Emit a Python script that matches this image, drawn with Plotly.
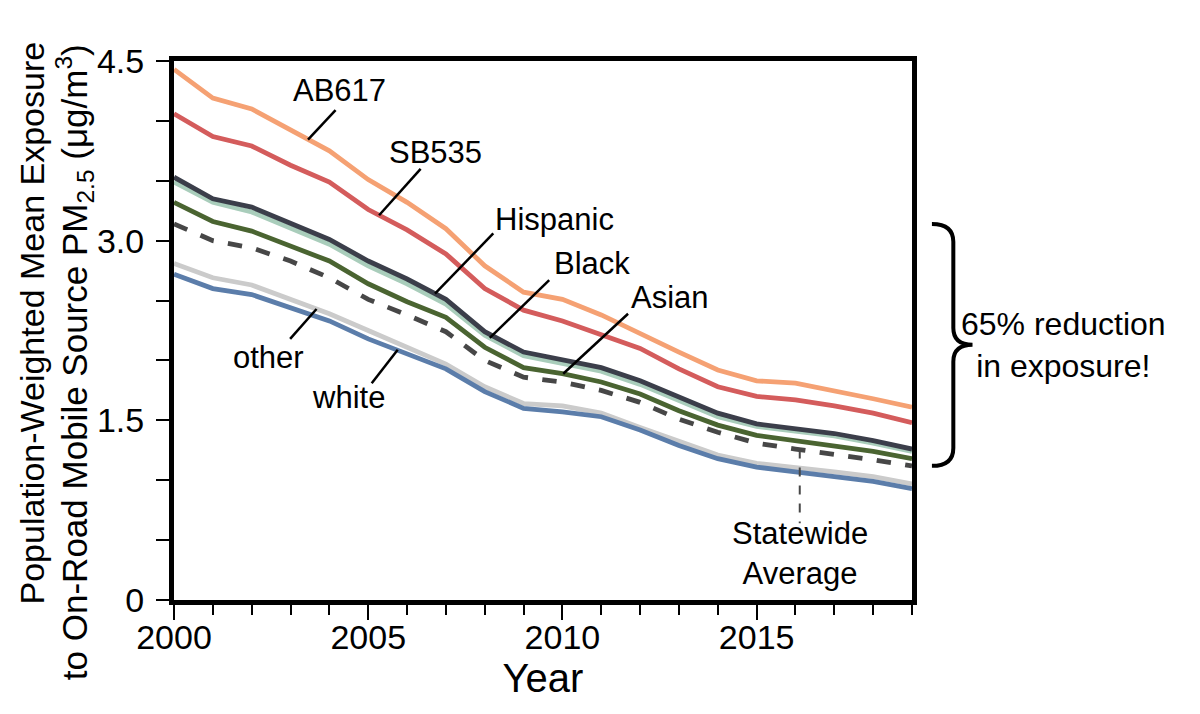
import numpy as np
import plotly.graph_objects as go

years = list(range(2000, 2020))

# population-weighted mean exposure, ug/m3
ab617 = [4.43, 4.19, 4.10, 3.92, 3.75, 3.51, 3.32, 3.10, 2.79, 2.57,
         2.51, 2.38, 2.22, 2.07, 1.92, 1.83, 1.81, 1.75, 1.68, 1.61]
sb535 = [4.06, 3.87, 3.79, 3.63, 3.49, 3.26, 3.09, 2.89, 2.60, 2.42,
         2.33, 2.22, 2.10, 1.93, 1.78, 1.70, 1.67, 1.62, 1.56, 1.48]
hispanic = [3.53, 3.35, 3.28, 3.15, 3.01, 2.83, 2.68, 2.51, 2.24, 2.07,
            2.01, 1.94, 1.83, 1.69, 1.56, 1.47, 1.43, 1.39, 1.33, 1.26]
black = [3.49, 3.32, 3.24, 3.11, 2.97, 2.79, 2.64, 2.47, 2.21, 2.04,
         1.98, 1.91, 1.80, 1.67, 1.53, 1.45, 1.41, 1.37, 1.31, 1.24]
asian = [3.32, 3.16, 3.08, 2.96, 2.83, 2.64, 2.49, 2.36, 2.11, 1.94,
         1.89, 1.82, 1.72, 1.58, 1.46, 1.375, 1.33, 1.29, 1.24, 1.18]
statewide = [3.14, 3.00, 2.94, 2.83, 2.69, 2.51, 2.38, 2.24, 2.00, 1.86,
             1.82, 1.75, 1.65, 1.51, 1.40, 1.31, 1.26, 1.22, 1.17, 1.12]
other = [2.81, 2.69, 2.63, 2.51, 2.39, 2.25, 2.11, 1.97, 1.78, 1.64,
         1.62, 1.56, 1.44, 1.33, 1.21, 1.14, 1.11, 1.07, 1.03, 0.97]
white = [2.72, 2.60, 2.55, 2.44, 2.33, 2.18, 2.06, 1.93, 1.74, 1.60,
         1.57, 1.53, 1.42, 1.29, 1.18, 1.11, 1.07, 1.03, 0.99, 0.93]

ytick_vals = [0, 1.5, 3.0, 4.5]
ytick_text = ["0", "1.5", "3.0", "4.5"]

FONT = "Liberation Sans, Arial, sans-serif"
lab_size = 31

series = [
    ("AB617", ab617, "#F5A173", "solid"),
    ("SB535", sb535, "#D45C5C", "solid"),
    ("Black", black, "#A9CDBB", "solid"),
    ("Hispanic", hispanic, "#3B3E4A", "solid"),
    ("Asian", asian, "#4A6431", "solid"),
    ("Statewide Average", statewide, "#474747", "dash"),
    ("other", other, "#CBCBCB", "solid"),
    ("white", white, "#5B7DAA", "solid"),
]
lookup = {name: vals for name, vals, _, _ in series}

fig = go.Figure()
for name, vals, color, dash in series:
    fig.add_trace(go.Scatter(
        x=years, y=vals, mode="lines", name=name,
        line=dict(color=color, width=4.8, dash=dash),
    ))

# labels: (text, series, x where pointer hits, pointer start x, y, text x, y)
labels = [
    ("AB617", "AB617", 2003.45, 2004.16, 4.09, 2004.27, 4.25),
    ("SB535", "SB535", 2005.28, 2006.35, 3.60, 2006.74, 3.74),
    ("Hispanic", "Hispanic", 2006.72, 2008.22, 3.06, 2009.79, 3.18),
    ("Black", "Black", 2008.13, 2009.66, 2.67, 2010.76, 2.81),
    ("Asian", "Asian", 2010.02, 2011.69, 2.39, 2012.77, 2.525),
    ("other", "other", 2003.67, 2002.99, 2.18, 2002.42, 2.025),
    ("white", "white", 2005.76, 2005.09, 1.81, 2004.49, 1.69),
]
for text, key, xe, xs, ys, tx, ty in labels:
    ye = float(np.interp(xe, years, lookup[key]))
    fig.add_shape(type="line", xref="x", yref="y", x0=xs, y0=ys, x1=xe, y1=ye,
                  line=dict(color="black", width=2.5))
    fig.add_annotation(x=tx, y=ty, xref="x", yref="y", text=text, showarrow=False,
                       font=dict(size=lab_size, family=FONT, color="black"))

# statewide average pointer (dashed, vertical)
sx = 2016.11
fig.add_shape(type="line", xref="x", yref="y", x0=sx, x1=sx,
              y0=float(np.interp(sx, years, statewide)), y1=0.64,
              line=dict(color="#474747", width=2, dash="dash"))
fig.add_annotation(x=sx, y=0.72, xref="x", yref="y", yanchor="top",
                   text="Statewide<br>Average", showarrow=False,
                   font=dict(size=lab_size, family=FONT, color="black"))

# curly brace spanning the statewide drop
top, bot = statewide[0], statewide[-1]
mid = (top + bot) / 2
brace = (f"M 1.027,{top} Q 1.056,{top} 1.056,{top - 0.15} "
         f"L 1.056,{mid + 0.14} Q 1.056,{mid} 1.082,{mid} "
         f"Q 1.056,{mid} 1.056,{mid - 0.14} "
         f"L 1.056,{bot + 0.15} Q 1.056,{bot} 1.027,{bot}")
fig.add_shape(type="path", xref="paper", yref="y", path=brace,
              line=dict(color="black", width=4))
fig.add_annotation(x=1.205, y=mid, xref="paper", yref="y",
                   xanchor="center", yanchor="middle",
                   text="65% reduction<br>in exposure!", showarrow=False,
                   font=dict(size=32, family=FONT, color="black"))

# y title: two rotated lines, both starting from the top
ytitle = [
    ("Population-Weighted Mean Exposure", -0.1924, 1.039, 34),
    ("to On-Road Mobile Source PM<sub>2.5</sub> (μg/m<sup>3</sup>)", -0.1355, 1.035, 35),
]
for text, x, y, size in ytitle:
    fig.add_annotation(
        x=x, y=y, xref="paper", yref="paper", textangle=-90,
        xanchor="center", yanchor="top", text=text, showarrow=False,
        font=dict(size=size, family=FONT, color="black"),
    )

# page body has an 8px margin, so the figure is shifted by that amount
fig.update_layout(
    width=1184, height=698,
    margin=dict(l=166, r=280, t=53, b=106),
    plot_bgcolor="white", paper_bgcolor="white",
    showlegend=False,
    font=dict(family=FONT, color="black"),
    xaxis=dict(
        range=[2000, 2019], dtick=5, tick0=2000,
        showline=True, linecolor="black", linewidth=5, mirror=True,
        ticks="outside", ticklen=15, tickwidth=2, tickcolor="black",
        minor=dict(dtick=1, ticks="outside", ticklen=10, tickwidth=1.5, tickcolor="black"),
        showgrid=False, zeroline=False,
        tickfont=dict(size=34, family=FONT),
        ticklabelstandoff=-12,
        title=dict(text="Year", font=dict(size=40, family=FONT), standoff=0),
    ),
    yaxis=dict(
        range=[0, 4.5], tickvals=ytick_vals, ticktext=ytick_text,
        showline=True, linecolor="black", linewidth=5, mirror=True,
        ticks="outside", ticklen=13, tickwidth=2, tickcolor="black",
        minor=dict(dtick=0.5, ticks="outside", ticklen=13, tickwidth=2, tickcolor="black"),
        showgrid=False, zeroline=False,
        tickfont=dict(size=34, family=FONT),
        ticklabelstandoff=5,
    ),
)

fig.write_html("out.html")
